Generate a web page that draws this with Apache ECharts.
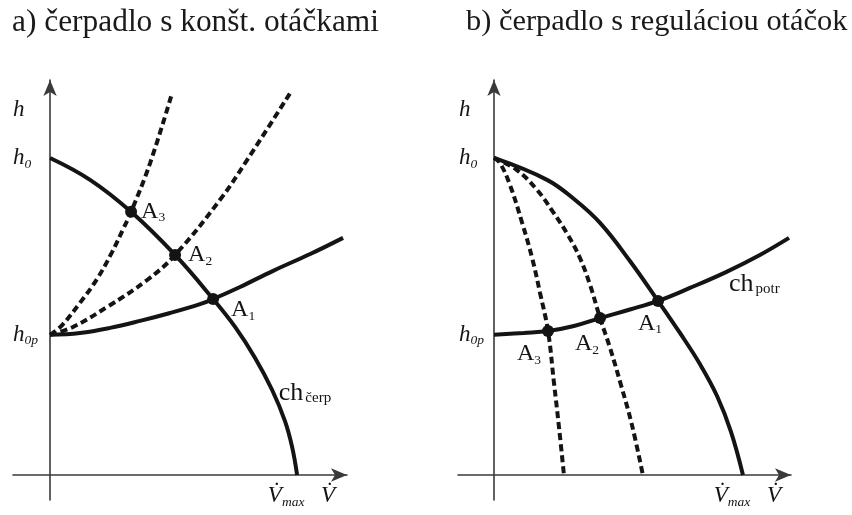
<!DOCTYPE html>
<html>
<head>
<meta charset="utf-8">
<script src="https://cdn.jsdelivr.net/npm/echarts@6/dist/echarts.min.js"></script>
<style>
  html, body { margin: 0; padding: 0; background: #fff; }
  #chart { width: 852px; height: 515px; }
</style>
</head>
<body>
<div id="chart"></div>
<script>
// Operating points of a pump on a pipe network.
// V̇ is given in % of V̇max, h in % of h0.

const panelTitles = ['a) čerpadlo s konšt. otáčkami', 'b) čerpadlo s reguláciou otáčok'];

// a) constant speed pump, throttled network
const pumpA      = [[0, 100], [16.2, 93.1], [32.8, 83], [50.6, 69.4], [66, 55.5], [74.9, 46.7], [83, 36.9], [89.9, 26.8], [95.1, 17], [98, 8.8], [100, 0]];
const systemA    = [[0, 44.2], [12.1, 44.8], [24.3, 46.4], [36.4, 48.6], [48.6, 51.1], [60.7, 53.9], [66, 55.5], [76.9, 59.3], [90.3, 64.4], [105.3, 69.7], [118.6, 74.8]];
const throttleA2 = [[0, 44.2], [9.3, 46.7], [23.1, 53], [39.3, 61.5], [50.6, 69.4], [68.8, 86.8], [79.8, 99.4], [97.2, 120.5]];
const throttleA3 = [[0, 44.2], [4.9, 47.3], [12.1, 54.3], [19, 61.8], [25.1, 70.3], [29.6, 77.6], [32.8, 83], [40.5, 98.4], [49.4, 120.5]];
const pointsA    = [[66, 55.5], [50.6, 69.4], [32.8, 83]];

// b) speed controlled pump, fixed network
const pumpB      = [[0, 100], [21.3, 93.1], [32.5, 86.8], [42.6, 79.5], [54.6, 67.5], [65.9, 54.9], [74.7, 44.8], [82.7, 35], [89.6, 24.9], [95.2, 13.6], [100, 0]];
const systemB    = [[0, 44.2], [12, 44.8], [21.7, 45.4], [32.1, 47], [42.6, 49.5], [54.6, 52.2], [65.9, 54.9], [78.7, 59], [93.2, 64], [106.8, 69.4], [118.5, 74.8]];
const speedB2    = [[0, 100], [9.2, 96.2], [17.3, 89.9], [23.7, 83], [29.7, 75.7], [34.5, 68.5], [38.6, 59.9], [42.6, 49.5], [46.6, 40.1], [51, 28.4], [55.4, 15.8], [59.8, 0]];
const speedB3    = [[0, 100], [2.4, 98.4], [6.4, 91.5], [11.2, 79.8], [15.3, 68.5], [18.5, 57.4], [21.7, 45.4], [24.1, 29], [26.1, 15.1], [28.1, 0]];
const pointsB    = [[65.9, 54.9], [42.6, 49.5], [21.7, 45.4]];

const pointSubs = ['1', '2', '3'];

// axis labels
const yLabelValues = [115, 100, 44.2];
const yLabelSubs   = ['', '0', '0p'];
const xLabelValues = [100, 112.5];
const xLabelSubs   = ['max', ''];

// curve names
const curveNameA = { value: [103.2, 25.9], main: 'ch', sub: 'čerp' };
const curveNameB = { value: [104.6, 60.3], main: 'ch', sub: 'potr' };

const SERIF = '"Liberation Serif", "Times New Roman", serif';
const INK = '#141414';

function axisBase() {
  return {
    type: 'value',
    axisLine: {
      show: true, onZero: true,
      symbol: ['none', 'arrow'], symbolSize: [10, 16],
      lineStyle: { color: '#3a3a3a', width: 1.6 }
    },
    axisTick: { show: false },
    splitLine: { show: false }
  };
}

const subRich = {
  m: { fontFamily: SERIF, fontStyle: 'italic', fontSize: 23, color: INK, lineHeight: 26, verticalAlign: 'middle' },
  s: { fontFamily: SERIF, fontStyle: 'italic', fontSize: 13.5, color: INK, lineHeight: 26, verticalAlign: 'bottom' },
  g: { width: 22 }
};

function yAxis(grid, margin) {
  const ax = axisBase();
  ax.gridIndex = grid;
  ax.min = -7.9; ax.max = 124.6;
  ax.axisLabel = {
    show: true, customValues: yLabelValues, margin: margin, align: 'left', color: INK,
    formatter: (v, i) => {
      const k = yLabelValues.indexOf(v);
      const sub = yLabelSubs[k >= 0 ? k : i];
      return '{m|h}' + (sub ? '{s|' + sub + '}' : '');
    },
    rich: subRich
  };
  return ax;
}

function xAxis(grid, min, max) {
  const ax = axisBase();
  ax.gridIndex = grid;
  ax.min = min; ax.max = max;
  ax.axisLabel = {
    show: true, customValues: xLabelValues, margin: -17, color: INK,
    formatter: (v, i) => {
      const k = xLabelValues.indexOf(v);
      const sub = xLabelSubs[k >= 0 ? k : i];
      return '{m|V\u0307}' + (sub ? '{s|' + sub + '}{g|}' : '');
    },
    rich: subRich
  };
  return ax;
}

function curve(data, idx, dashed) {
  return {
    type: 'line', xAxisIndex: idx, yAxisIndex: idx,
    data: data, smooth: 0.4,
    symbol: 'none', silent: true,
    lineStyle: { color: INK, width: 4, type: dashed ? [7, 4] : 'solid', cap: 'butt' },
    z: dashed ? 2 : 3
  };
}

const pointRich = {
  m: { fontFamily: SERIF, fontSize: 24, color: INK, lineHeight: 26, verticalAlign: 'middle' },
  s: { fontFamily: SERIF, fontSize: 13.5, color: INK, lineHeight: 26, verticalAlign: 'bottom' }
};

function points(data, idx, layout) {
  return {
    type: 'scatter', xAxisIndex: idx, yAxisIndex: idx, silent: true, z: 5,
    symbol: 'circle', symbolSize: 12,
    itemStyle: { color: INK, opacity: 1 },
    data: data.map((p, i) => Object.assign({ value: p, sub: pointSubs[i] }, { label: layout[i] })),
    label: {
      show: true, color: INK, opacity: 1,
      formatter: (p) => '{m|A}{s|' + p.data.sub + '}',
      rich: pointRich
    }
  };
}

function curveName(item, idx) {
  return {
    type: 'scatter', xAxisIndex: idx, yAxisIndex: idx, silent: true,
    symbolSize: 1, itemStyle: { color: 'rgba(0,0,0,0)' },
    data: [{ value: item.value, main: item.main, sub: item.sub }],
    label: {
      show: true, position: 'inside', color: INK, opacity: 1,
      formatter: (p) => '{c|' + p.data.main + '}{s|' + p.data.sub + '}',
      rich: {
        c: { fontFamily: SERIF, fontSize: 26, color: INK, lineHeight: 28, verticalAlign: 'middle' },
        s: { fontFamily: SERIF, fontSize: 15, color: INK, lineHeight: 28, verticalAlign: 'bottom', padding: [0, 0, 1, 2] }
      }
    }
  };
}

const layoutA = [
  { position: 'right', distance: 12, offset: [0, 11] },
  { position: 'right', distance: 7 },
  { position: 'right', distance: 4 }
];
const layoutB = [
  { position: 'bottom', distance: 5, offset: [-8, -1] },
  { position: 'bottom', distance: 5, offset: [-13, 2] },
  { position: 'bottom', distance: 5, offset: [-19, -1] }
];

const titleStyleA = { fontFamily: SERIF, fontSize: 31.4, fontWeight: 'normal', color: '#1a1a1a' };
const titleStyleB = { fontFamily: SERIF, fontSize: 30.4, fontWeight: 'normal', color: '#1a1a1a' };

const option = {
  animation: false,
  backgroundColor: '#ffffff',
  title: [
    { text: panelTitles[0], left: 12, top: 7, padding: 0, textStyle: titleStyleA },
    { text: panelTitles[1], left: 466, top: 7, padding: 0, textStyle: titleStyleB }
  ],
  grid: [
    { left: 13, top: 80, width: 334, height: 420, outerBoundsMode: 'none' },
    { left: 458, top: 80, width: 333, height: 420, outerBoundsMode: 'none' }
  ],
  xAxis: [xAxis(0, -15, 120.2), xAxis(1, -14.46, 119.3)],
  yAxis: [yAxis(0, 0), yAxis(1, -1)],
  series: [
    curve(throttleA3, 0, true),
    curve(throttleA2, 0, true),
    curve(systemA, 0, false),
    curve(pumpA, 0, false),
    points(pointsA, 0, layoutA),
    curveName(curveNameA, 0),

    curve(speedB3, 1, true),
    curve(speedB2, 1, true),
    curve(systemB, 1, false),
    curve(pumpB, 1, false),
    points(pointsB, 1, layoutB),
    curveName(curveNameB, 1)
  ]
};

const chart = echarts.init(document.getElementById('chart'), null, { renderer: 'canvas' });
chart.setOption(option);
</script>
</body>
</html>
